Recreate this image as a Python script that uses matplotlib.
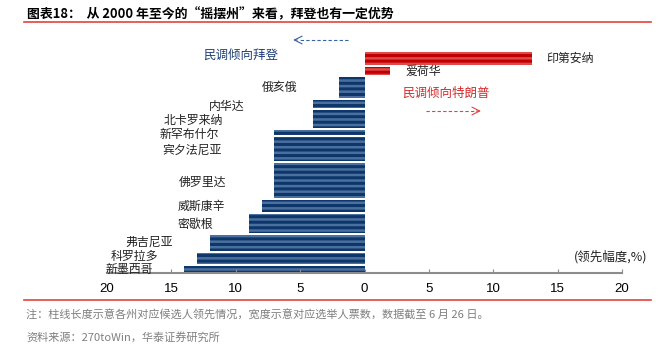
import matplotlib.pyplot as plt
from matplotlib.lines import Line2D

plt.rcParams['font.family'] = ['Noto Sans CJK SC', 'DejaVu Sans']
plt.rcParams['hatch.linewidth'] = 1.8

# swing states, poll lead (+ Trump / - Biden) and electoral votes (bar width)
states = ['印第安纳', '爱荷华', '俄亥俄', '内华达', '北卡罗来纳', '新罕布什尔', '宾夕法尼亚',
          '佛罗里达', '威斯康辛', '密歇根', '弗吉尼亚', '科罗拉多', '新墨西哥']
lead = [13, 2, -2, -4, -4, -7, -7, -7, -8, -9, -12, -13, -14]
electoral_votes = [11, 6, 18, 6, 15, 4, 20, 29, 10, 16, 13, 9, 5]
tick_values = [-20, -15, -10, -5, 0, 5, 10, 15, 20]
tick_labels = ['20', '15', '10', '5', '0', '5', '10', '15', '20']

# where each state name sits: x in data units, vertical nudge in pixels (down +)
label_x = [14.1, 3.2, -5.2, -9.3, -11.0, -11.3, -11.05, -10.7, -10.8, -11.75, -14.9, -16.0, -16.4]
label_dy = [0, 0, 0, 2, 2, 2, 1, 2, 0, 1, -1, -2, 0]

blue_dark, blue_light = '#0d376b', '#4c709d'
red_dark, red_light = '#c00000', '#dc4a4a'

W, H = 667, 346
fig = plt.figure(figsize=(W / 100, H / 100), dpi=100)
ax = fig.add_axes([107 / W, 73 / H, 515 / W, 243 / H])

px = 1.21          # pixels per electoral vote
gap = 1.65
top = 182.6
centers = []
y = top
for ev in electoral_votes:
    centers.append(y - ev / 2)
    y -= ev + gap

for i in range(len(states)):
    face = red_dark if lead[i] > 0 else blue_dark
    hatchc = red_light if lead[i] > 0 else blue_light
    ax.barh(centers[i], lead[i], height=electoral_votes[i], color=face,
            edgecolor=hatchc, linewidth=0, hatch='---')
    ax.text(label_x[i], centers[i] - label_dy[i] / px, states[i],
            ha='left' if lead[i] > 0 else 'right',
            va='center', fontsize=8.6, color='#222222')

ax.set_xlim(-20, 20)
ax.set_ylim(0, 243 / px)
for s in ['top', 'left', 'right']:
    ax.spines[s].set_visible(False)
ax.spines['bottom'].set_color('#8c8c8c')
ax.spines['bottom'].set_linewidth(1.5)
ax.set_yticks([])
ax.set_xticks(tick_values)
ax.set_xticklabels(tick_labels, fontsize=9.5, family='Liberation Sans')
ax.tick_params(axis='x', direction='in', length=3, color='#8c8c8c', pad=7)


def yd(pix):
    return (273 - pix) / px


# direction hints
ax.text(-9.65, yd(55), '民调倾向拜登', ha='center', va='center', fontsize=9, color='#1f3f74')
ax.plot([-1.3, -5.2], [yd(40)] * 2, color='#3a62a0', lw=0.8, ls=(0, (3, 2)))
ax.annotate('', xy=(-5.76, yd(40)), xytext=(-5.0, yd(40)),
            arrowprops=dict(arrowstyle='->', color='#3a62a0', lw=0.8, mutation_scale=14))

ax.text(6.34, yd(93), '民调倾向特朗普', ha='center', va='center', fontsize=9, color='#d42a2a')
ax.plot([4.75, 8.7], [yd(111)] * 2, color='#e04545', lw=0.8, ls=(0, (3, 2)))
ax.annotate('', xy=(9.26, yd(111)), xytext=(8.5, yd(111)),
            arrowprops=dict(arrowstyle='->', color='#e04545', lw=0.8, mutation_scale=14))

ax.text(19.1, yd(257), '(领先幅度,%)', ha='center', va='center', fontsize=9,
        color='#222222', clip_on=False)

# title, rules and notes
fig.text(27 / W, 1 - 14 / H, '图表18：  从 2000 年至今的“摇摆州”来看，拜登也有一定优势',
         fontsize=9.3, fontweight='bold', va='center')
for yy in [22, 300]:
    fig.add_artist(Line2D([24 / W, 651 / W], [1 - yy / H] * 2, color='#e8413c', lw=1.2))
fig.text(26 / W, 1 - 315 / H,
         '注：柱线长度示意各州对应候选人领先情况，宽度示意对应选举人票数，数据截至 6 月 26 日。',
         fontsize=8, color='#7f7f7f', va='center')
fig.text(26 / W, 1 - 337 / H, '资料来源：270toWin，华泰证券研究所',
         fontsize=8, color='#7f7f7f', va='center')

fig.savefig('out.png', dpi=100)
